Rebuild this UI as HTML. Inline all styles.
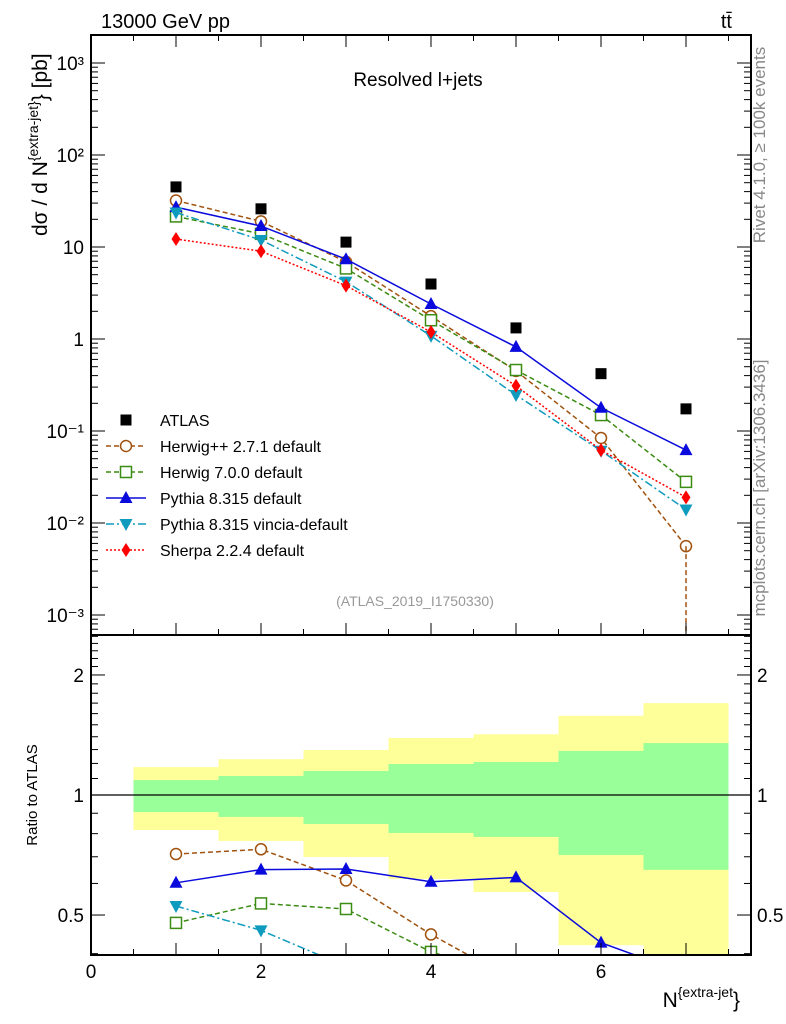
<!DOCTYPE html>
<html><head><meta charset="utf-8"><style>
html,body{margin:0;background:#fff;overflow:hidden;width:786px;height:1024px}
svg{display:block;font-family:"Liberation Sans",sans-serif;overflow:hidden}
</style></head><body>
<svg id="c" width="786" height="1024"></svg>
<script>
const xVals=[1,2,3,4,5,6,7];
const atlas=[45,26,11.3,3.96,1.32,0.42,0.174];
const herwigpp=[32,19,6.9,1.77,0.45,0.084,0.0056];
const herwig7=[21.5,13.9,5.85,1.6,0.46,0.149,0.028];
const pythia=[27.1,16.9,7.37,2.4,0.82,0.179,0.062];
const vincia=[23.7,11.9,4.2,1.08,0.246,0.061,0.014];
const sherpa=[12.2,9.0,3.8,1.19,0.31,0.062,0.019];
const binLo=[0.5,1.5,2.5,3.5,4.5,5.5,6.5];
const binHi=[1.5,2.5,3.5,4.5,5.5,6.5,7.5];
const yelHi=[1.175,1.23,1.297,1.39,1.42,1.58,1.70];
const yelLo=[0.817,0.767,0.699,0.616,0.571,0.42,0.3];
const grnHi=[1.09,1.116,1.149,1.196,1.21,1.29,1.35];
const grnLo=[0.906,0.881,0.846,0.803,0.785,0.707,0.649];
const xTicks=[0,2,4,6];
const yTicksMain=[1000,100,10,1,0.1,0.01,0.001];
const yTickLabels=["10³","10²","10","1","10⁻¹","10⁻²","10⁻³"];
const rTicks=[0.5,1,2];

const NS="http://www.w3.org/2000/svg",svg=document.getElementById('c');
const L=91,R=751,T=35,MB=635,RB=955;
const X=v=>L+(v)*85;
const Y=v=>339-92*Math.log10(v);
const RY=v=>795-398.7*Math.log10(v);
function el(t,a,p){const e=document.createElementNS(NS,t);for(const k in a)e.setAttribute(k,a[k]);(p||svg).appendChild(e);return e;}
function txt(s,a,p){const e=el('text',a,p);e.textContent=s;return e;}

const clipR=el('clipPath',{id:'cr'});el('rect',{x:L,y:MB,width:R-L,height:RB-MB},clipR);
const clipM=el('clipPath',{id:'cm'});el('rect',{x:L,y:T,width:R-L,height:MB-T},clipM);
const gr=el('g',{'clip-path':'url(#cr)'});

binLo.forEach((lo,i)=>{
  const b=el('rect',{x:X(lo),y:RY(yelHi[i]),width:X(binHi[i])-X(lo),height:RY(yelLo[i])-RY(yelHi[i]),fill:'#ffff99'},gr);
  
  const g=el('rect',{x:X(lo),y:RY(grnHi[i]),width:X(binHi[i])-X(lo),height:RY(grnLo[i])-RY(grnHi[i]),fill:'#99ff99'},gr);
  
});
el('line',{x1:L,x2:R,y1:RY(1),y2:RY(1),stroke:'#000','stroke-width':1.2},gr);
const gm=el('g',{'clip-path':'url(#cm)'});


const series=[
 {n:'herwigpp',d:herwigpp,c:'#a0520f',dash:'5,3',m:'circle',lab:'Herwig++ 2.7.1 default'},
 {n:'herwig7',d:herwig7,c:'#3c8c14',dash:'5,3',m:'square',lab:'Herwig 7.0.0 default'},
 {n:'pythia',d:pythia,c:'#0a0adc',dash:'',m:'tri',lab:'Pythia 8.315 default'},
 {n:'vincia',d:vincia,c:'#0f9bbe',dash:'8,3,2,3',m:'tridown',lab:'Pythia 8.315 vincia-default'},
 {n:'sherpa',d:sherpa,c:'#ff0000',dash:'2,2',m:'diamond',lab:'Sherpa 2.2.4 default'}];
function marker(m,x,y,c,p){
  let e;
  if(m=='circle')e=el('circle',{cx:x,cy:y,r:5.5,fill:'#fff',stroke:c,'stroke-width':1.5},p);
  else if(m=='square')e=el('rect',{x:x-5.5,y:y-5.5,width:11,height:11,fill:'#fff',stroke:c,'stroke-width':1.5},p);
  else if(m=='tri')e=el('polygon',{points:`${x},${y-7} ${x-6.5},${y+5} ${x+6.5},${y+5}`,fill:c},p);
  else if(m=='tridown')e=el('polygon',{points:`${x},${y+7} ${x-6.5},${y-5} ${x+6.5},${y-5}`,fill:c},p);
  else if(m=='diamond')e=el('polygon',{points:`${x},${y-7} ${x-4.5},${y} ${x},${y+7} ${x+4.5},${y}`,fill:c},p);
  else e=el('rect',{x:x-5.5,y:y-5.5,width:11,height:11,fill:c},p);
  return e;
}
series.forEach(s=>{
  const pm=s.d.map((v,i)=>X(xVals[i])+','+Y(v)).join(' ');
  const l=el('polyline',{points:pm,fill:'none',stroke:s.c,'stroke-width':1.5,'stroke-dasharray':s.dash},gm);
  
  const pr=s.d.map((v,i)=>X(xVals[i])+','+RY(v/atlas[i])).join(' ');
  const l2=el('polyline',{points:pr,fill:'none',stroke:s.c,'stroke-width':1.5,'stroke-dasharray':s.dash},gr);
  
  s.d.forEach((v,i)=>{
    const mk=marker(s.m,X(xVals[i]),Y(v),s.c,gm);
    
    const mr=marker(s.m,X(xVals[i]),RY(v/atlas[i]),s.c,gr);
    
  });
});
el('line',{x1:X(7),x2:X(7),y1:Y(herwigpp[6]),y2:MB,stroke:'#a0520f','stroke-width':1.5,'stroke-dasharray':'5,3'},gm);
atlas.forEach((v,i)=>{const m=marker('sq',X(xVals[i]),Y(v),'#000',gm);
  });

el('rect',{x:L,y:T,width:R-L,height:RB-T,fill:'none',stroke:'#000','stroke-width':2});
el('line',{x1:L,x2:R,y1:MB,y2:MB,stroke:'#000','stroke-width':2});
for(let v=0;v<=7.5;v+=0.5){const big=v%1==0;
  [MB,RB].forEach(b=>{el('line',{x1:X(v),x2:X(v),y1:b,y2:b-(big?12:6),stroke:'#000'});});
  el('line',{x1:X(v),x2:X(v),y1:T,y2:T+(big?12:6),stroke:'#000'});
}
xTicks.forEach(v=>{const t=txt(v,{x:X(v),y:978,'font-size':19,'text-anchor':'middle'});
  });
for(let d=-4;d<=3;d++)for(let k=1;k<10;k++){const v=k*Math.pow(10,d),y=Y(v);if(y<T||y>MB)continue;
  const len=k==1?14:7;el('line',{x1:L,x2:L+len,y1:y,y2:y,stroke:'#000'});el('line',{x1:R,x2:R-len,y1:y,y2:y,stroke:'#000'});}
yTicksMain.forEach((v,i)=>{const t=txt(yTickLabels[i],{x:84,y:Y(v)+7,'font-size':19,'text-anchor':'end'});
  });
for(let v=0.4;v<=2.5;v=+(v+0.1).toFixed(1)){const y=RY(v);if(y<MB)continue;const big=[0.5,1,2].includes(v);
  el('line',{x1:L,x2:L+(big?14:7),y1:y,y2:y,stroke:'#000'});el('line',{x1:R,x2:R-(big?14:7),y1:y,y2:y,stroke:'#000'});}
rTicks.forEach(v=>{txt(v,{x:84,y:RY(v)+7,'font-size':19,'text-anchor':'end'});txt(v,{x:757,y:RY(v)+7,'font-size':19});});

txt('13000 GeV pp',{x:101,y:28,'font-size':20});
txt('tt̄',{x:732,y:28,'font-size':20,'text-anchor':'end'});
txt('Resolved l+jets',{x:418,y:86,'font-size':19,'text-anchor':'middle'});
txt('(ATLAS_2019_I1750330)',{x:415,y:606,'font-size':14,'text-anchor':'middle',fill:'#999'});
txt('Rivet 4.1.0, ≥ 100k events',{x:0,y:0,'font-size':17,fill:'#888','text-anchor':'middle',transform:'translate(765,145) rotate(-90)'});
txt('mcplots.cern.ch [arXiv:1306.3436]',{x:0,y:0,'font-size':17,fill:'#888','text-anchor':'middle',transform:'translate(765,488) rotate(-90)'});
const yl=el('text',{transform:'translate(47,236) rotate(-90)','font-size':21,'text-anchor':'start'});
yl.innerHTML='dσ / d N<tspan font-size="14" dy="-9">{extra-jet}</tspan><tspan dy="9">} [pb]</tspan>';

txt('Ratio to ATLAS',{transform:'translate(37,795) rotate(-90)','font-size':15,'text-anchor':'middle'});
const xl=el('text',{x:740,y:1007,'font-size':21,'text-anchor':'end'});
xl.innerHTML='N<tspan font-size="14" dy="-10">{extra-jet</tspan><tspan dy="10">}</tspan>';


const lg=el('g',{});
marker('sq',126,420,'#000',lg);txt('ATLAS',{x:160,y:426,'font-size':16},lg);
series.forEach((s,i)=>{const y=446+26*i;
  el('line',{x1:106,x2:146,y1:y,y2:y,stroke:s.c,'stroke-width':1.5,'stroke-dasharray':s.dash},lg);
  marker(s.m,126,y,s.c,lg);
  const t=txt(s.lab,{x:160,y:y+6,'font-size':16},lg);
  });
</script>
</body></html>
